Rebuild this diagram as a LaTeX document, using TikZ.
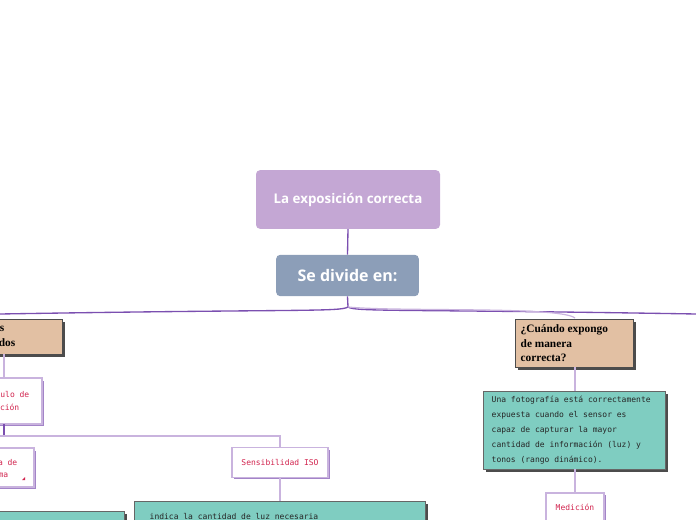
\documentclass[tikz,border=0pt]{standalone}
\usepackage{fontspec}
\setmainfont{Open Sans}
\newfontfamily\serifb{Liberation Serif}
\newfontfamily\monof{DejaVu Sans Mono}
\definecolor{ttl}{HTML}{C4A7D4}
\definecolor{sub}{HTML}{8C9EB8}
\definecolor{tan}{HTML}{E2C0A3}
\definecolor{teal}{HTML}{7FCDC1}
\definecolor{lnk}{HTML}{7B4FB0}
\definecolor{lnk2}{HTML}{C9B3DE}
\definecolor{redt}{HTML}{D2254F}
\begin{document}
\begin{tikzpicture}[x=0.75pt,y=-0.75pt,
 ln/.style={draw=lnk2,line width=0.9pt},
 lnd/.style={draw=lnk,line width=1pt},
 tanbox/.style={fill=tan,draw=black!70,line width=0.5pt},
 tealbox/.style={fill=teal,draw=black!60,line width=0.5pt},
 whitebox/.style={fill=white,draw=lnk2,line width=0.8pt},
 shad/.style={fill=black!70},
 pshad/.style={fill=lnk!70},
 redtxt/.style={text=redt,font=\monof\fontsize{6}{11}\selectfont,align=left},
 teatxt/.style={text=black!85,font=\monof\fontsize{6}{11.3}\selectfont,align=left},
 tantxt/.style={font=\serifb\bfseries\fontsize{8.5}{11}\selectfont,align=left}]
\useasboundingbox (0,0) rectangle (696,520);
\clip (0,0) rectangle (696,520);
% title
\node[fill=ttl,rounded corners=3pt,minimum width=138pt,minimum height=44pt,text=white,font=\bfseries\fontsize{10}{12}\selectfont] (ttl) at (348,199.5) {La exposición correcta};
\node[fill=sub,rounded corners=3pt,minimum width=107pt,minimum height=31pt,text=white,font=\bfseries\fontsize{12}{14}\selectfont] (sub) at (347.5,275.5) {Se divide en:};
\draw[lnd] (ttl.south) -- (sub.north);
\coordinate (j) at (348,307);
\draw[lnd] (sub.south) -- (j);
\draw[lnd] (j) .. controls (340,312) and (300,309) .. (0,314);
\draw[lnd] (j) .. controls (356,312) and (400,309) .. (696,314);
\draw[ln] (j) .. controls (400,312) and (560,306) .. (575,318);
% left tan
\fill[shad] (-88,322) rectangle (65,357);
\draw[tanbox] (-90,319) rectangle (62,354);
\node[tantxt,anchor=east] at (9,329) {Tres conceptos};
\node[tantxt,anchor=east] at (20,343) {relacionados};
\coordinate (a1) at (4,354);
% triangle box
\fill[pshad] (-58,381) rectangle (44,426);
\draw[whitebox] (-60,378) rectangle (42,424);
\node[redtxt,anchor=east] at (34,395) {Triángulo de};
\node[redtxt,anchor=east] at (24,408) {exposición};
\coordinate (a2) at (4,378);
\draw[ln] (a1) -- (a2);
\coordinate (a3) at (4,424);
\coordinate (h) at (4,436);
\draw[lnd] (a3) -- (h);
\draw[ln] (h) -- (280,436) -- (280,449);
\draw[ln] (h) -- (-10,436);
% apertura
\fill[pshad] (-58,451) rectangle (36,489);
\draw[whitebox] (-60,448) rectangle (34,487);
\node[redtxt,anchor=east] at (22,463) {Apertura de};
\node[redtxt,anchor=east] at (13,475) {diafragma};
\fill[redt] (25,480) -- (22,480) -- (25,477) -- cycle;
% ISO
\fill[pshad] (234,450) rectangle (330,479);
\node[whitebox,minimum width=72pt,minimum height=22pt,redtxt] (iso) at (280,462.5) {Sensibilidad ISO};
\draw[ln] (iso.south) -- (280,501);
% teal bottom
\fill[shad] (137,504) rectangle (428,530);
\draw[tealbox] (134,501) rectangle (425,530);
\node[teatxt,anchor=west] at (145,516) {indica la cantidad de luz necesaria};
\fill[shad] (-20,514) rectangle (127,530);
\draw[tealbox] (-22,511) rectangle (124,530);
% right
\fill[shad] (518,322) rectangle (636,370);
\draw[tanbox] (515,319) rectangle (633,367);
\node[tantxt,anchor=north west] at (516,320) {¿Cuándo expongo\\de manera\\correcta?};
\draw[ln] (575,367) -- (575,391);
\fill[shad] (486,394) rectangle (668,472);
\draw[tealbox] (483,391) rectangle (665,469);
\node[teatxt,anchor=west] at (487,430) {Una fotografía está correctamente\\expuesta cuando el sensor es\\capaz de capturar la mayor\\cantidad de información (luz) y\\tonos (rango dinámico).};
\draw[ln] (575,469) -- (575,493);
\fill[pshad] (548,495) rectangle (606,530);
\draw[whitebox] (546,493) rectangle (604,530);
\node[redtxt] at (575,507) {Medición};
\end{tikzpicture}
\end{document}
